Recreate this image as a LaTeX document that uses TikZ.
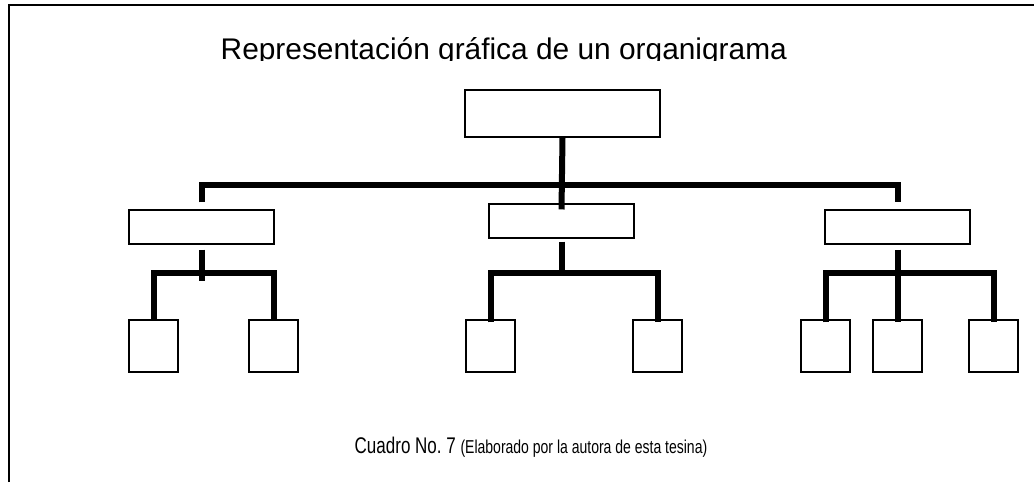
\documentclass[tikz,border=0pt]{standalone}
\usepackage{fontspec}
\setmainfont{Liberation Sans}
\newfontfamily\angosta[FakeStretch=0.75]{Liberation Sans}
\newcommand*{\grande}{\fontsize{22.4}{26}\selectfont}
\newcommand*{\medio}{\angosta\fontsize{17}{20}\selectfont}
\newcommand*{\chico}{\fontsize{14}{16}\selectfont}
\usetikzlibrary{positioning,calc}
\tikzset{caja/.style={draw,line width=.8pt,inner sep=0pt,fill=white},
  jefe/.style={caja,minimum width=146.25pt,minimum height=35.25pt},
  depto/.style={caja,minimum width=108.75pt,minimum height=25.5pt},
  unidad/.style={caja,minimum width=36.75pt,minimum height=39pt},
  linea/.style={line width=4.5pt,line join=miter},
  marco/.style={line width=1.5pt}}

\begin{document}
\begin{tikzpicture}[x=.75pt,y=-.75pt]
\useasboundingbox (0,0) rectangle (1034,482);
% Draw the frame
\draw[marco] (9,482) -- (9,5) -- (1034,5);

% Title, cut at the bottom
\begin{scope}
\clip (0,0) rectangle (1034,60);
\node[anchor=base west] (titulo) at (216,59)
  {\grande Representación gráfica de un organigrama};
\end{scope}

% Draw the boxes
\node[jefe] (dir) at (562.5,113.5) {};
\node[depto] (d1) at (201.5,227) {};
\node[depto] (d2) at (561.5,221) {};
\node[depto] (d3) at (897.5,227) {};
\foreach \n/\x in {a1/153.5,a2/273.5,b1/490.5,b2/657.5,c1/825.5,c2/897.5,c3/993.5}
  \node[unidad] (\n) at (\x,346) {};

% Draw the main bus
\coordinate (bus) at (562,185);
\draw[linea] (dir.south) -- ($(d2.north)+(0,6)$);
\draw[linea] ($(d1.north)+(0,-7)$) |- (bus) -| ($(d3.north)+(0,-7)$);

% Draw left group
\draw[linea] ($(d1.south)+(0,5)$) -- ($(d1.south)+(0,36)$);
\draw[linea] (a1.north) |- ($(d1.south)+(0,28)$) -| (a2.north);

% Draw middle group
\draw[linea] ($(d2.south)+(0,3)$) -- ($(d2.south)+(0,34)$);
\draw[linea] ($(b1.north)+(0,3)$) |- ($(d2.south)+(0,34)$) -| ($(b2.north)+(0,3)$);

% Draw right group
\draw[linea] ($(d3.south)+(0,5)$) -- ($(c2.north)+(0,3)$);
\draw[linea] ($(c1.north)+(0,3)$) |- ($(d3.south)+(0,28)$) -| ($(c3.north)+(0,3)$);

% Caption
\node[anchor=base west] (pie) at (350,453)
  {\medio Cuadro No.\ 7 {\chico(Elaborado por la autora de esta tesina)}};
\end{tikzpicture}
\end{document}
